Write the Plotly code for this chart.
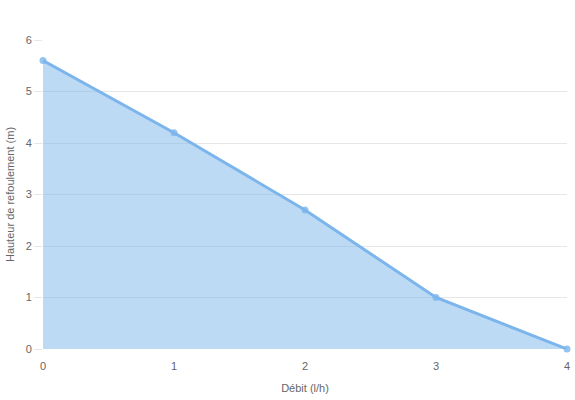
import plotly.graph_objects as go

debit = [0, 1, 2, 3, 4]
hauteur = [5.6, 4.2, 2.7, 1.0, 0]
x_ticks = [0, 1, 2, 3, 4]
y_ticks = [0, 1, 2, 3, 4, 5, 6]

fig = go.Figure()
fig.add_trace(go.Scatter(
    x=debit, y=hauteur, mode="lines+markers",
    line=dict(color="#7cb5ec", width=3),
    marker=dict(size=7, color="rgba(124,181,236,0.8)"),
    fill="tozeroy", fillcolor="rgba(124,181,236,0.5)",
    cliponaxis=False,
    hoverinfo="x+y",
))

fig.update_layout(
    width=575, height=400,
    margin=dict(l=43, r=8, t=40, b=51, autoexpand=False),
    paper_bgcolor="white", plot_bgcolor="white",
    showlegend=False,
    font=dict(family="Liberation Sans, Arial, sans-serif", size=11, color="#666666"),
)
fig.update_xaxes(
    range=[0, 4], tickvals=x_ticks, showgrid=False, zeroline=False,
    showline=False, ticks="", ticklabelstandoff=9, automargin=False,
    title=dict(text="Débit (l/h)", font=dict(size=11, color="#666666"), standoff=13),
)
fig.update_yaxes(
    range=[0, 6], tickvals=y_ticks, showgrid=True, gridcolor="#e6e6e6",
    zeroline=False, showline=False, ticks="outside", ticklen=8, tickcolor="#e6e6e6",
    automargin=False,
    title=dict(text="Hauteur de refoulement (m)", font=dict(size=11, color="#666666"), standoff=8),
)
fig.write_html(
    "out.html",
    config={"displayModeBar": False},
    post_script="document.body.style.margin='0';document.body.style.overflow='hidden';",
)
